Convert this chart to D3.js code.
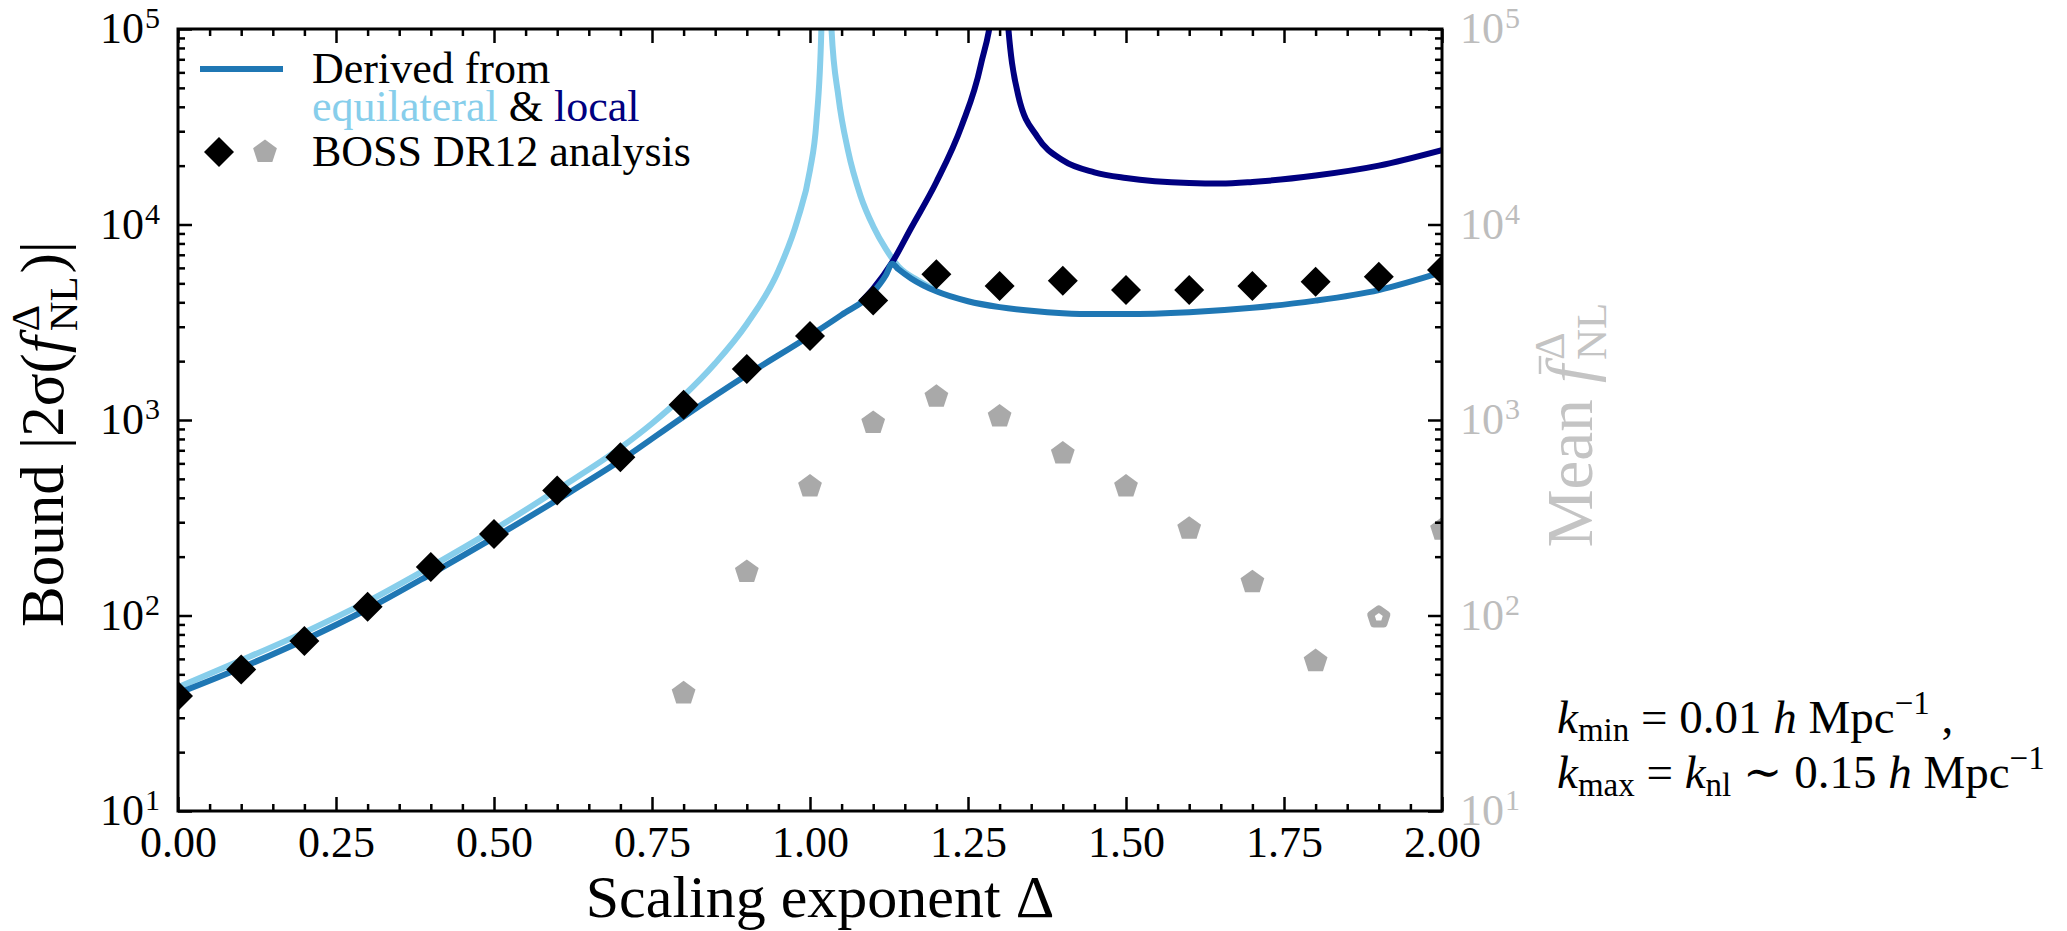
<!DOCTYPE html>
<html><head><meta charset="utf-8">
<script src="https://cdn.jsdelivr.net/npm/d3@7"></script>
<style>body{margin:0;background:#fff}svg text{white-space:pre}</style>
</head><body><svg id="c" width="2067" height="931"></svg>
<script>
// ---------------- data ----------------
const bossDelta = [0,0.1,0.2,0.3,0.4,0.5,0.6,0.7,0.8,0.9,1.0,1.1,1.2,1.3,1.4,1.5,1.6,1.7,1.8,1.9,2.0];
const bossBound = [38.7,52.9,74,111,177,261,436,644,1197,1822,2690,4085,5570,4842,5150,4620,4620,4840,5090,5400,5850];
const meanDelta = [0.8,0.9,1.0,1.1,1.2,1.3,1.4,1.5,1.6,1.7,1.8,1.9,2.0];
const meanValue = [40,167,457,966,1315,1042,674,457,278,148,58.5,98,275];
const meanOpen  = [false,false,false,false,false,false,false,false,false,false,false,true,false];

const combDelta = [0,0.1,0.2,0.3,0.4,0.5,0.6,0.7,0.8,0.9,1.0,1.05,1.1,1.12,1.13,1.14,1.16,1.2,1.25,1.3,1.35,1.4,1.45,1.5,1.6,1.7,1.8,1.9,2.0];
const combBound = [40,54,75,108,163,250,390,620,1040,1700,2700,3450,4500,5500,6300,5900,5300,4550,4050,3780,3620,3520,3480,3480,3560,3750,4080,4620,5700];

const eqDelta = [0,0.1,0.2,0.3,0.4,0.5,0.6,0.7,0.75,0.8,0.85,0.9,0.95,0.98,1.0,1.01,1.018,1.026,1.034,1.045,1.06,1.08,1.1,1.12,1.14,1.17,1.2];
const eqBound = [43,59,82,118,178,275,440,720,960,1330,1950,3100,5800,10500,19000,33000,100000,1e7,100000,45000,24000,14000,9800,7500,6100,5200,4600];

const locDelta = [1.08,1.1,1.13,1.16,1.2,1.24,1.27,1.29,1.3,1.31,1.33,1.36,1.4,1.45,1.5,1.6,1.65,1.7,1.8,1.9,2.0];
const locBound = [4000,4700,6400,9600,16500,32000,65000,150000,1e7,150000,45000,28000,21300,18500,17300,16300,16200,16500,17800,20000,24000];

const xMajor = [0,0.25,0.5,0.75,1.0,1.25,1.5,1.75,2.0];
const yExp = [1,2,3,4,5];

// ---------------- layout ----------------
const FONT = "'Liberation Serif','DejaVu Serif',serif";
const X0=178, X1=1442, Y0=29, Y1=811;
const C_COMB='#1f77b4', C_EQ='#87ceeb', C_LOC='#000080', C_GRAY='#a9a9a9', C_RT='#bdbdbd';
const LW = 6;

const svg = d3.select('#c');
const x = d3.scaleLinear().domain([0,2]).range([X0,X1]);
const y = d3.scaleLog().domain([10,1e5]).range([Y1,Y0]);

svg.append('defs').append('clipPath').attr('id','clip')
  .append('rect').attr('x',X0).attr('y',Y0).attr('width',X1-X0).attr('height',Y1-Y0);

// measuring helper
const meas = svg.append('text').attr('font-family',FONT).attr('x',10).attr('y',500).attr('fill','none');
function tw(t, fs, it){ meas.attr('font-size',fs).attr('font-style',it?'italic':'normal').text(t); return meas.node().getComputedTextLength(); }

// rich text: single <text> with positioned tspans
function rich(parent, px, py, parts, anchor, fill) {
  let cx = 0; const items = [];
  for (const p of parts) {
    if (p.sup !== undefined || p.sub !== undefined) {
      let w = 0;
      if (p.sup) { items.push({t:p.sup, fs:p.fs, it:p.supIt, x:cx, dy:p.supDy, fill:p.fill}); w = Math.max(w, tw(p.sup,p.fs,p.supIt)); }
      if (p.sub) { items.push({t:p.sub, fs:p.fs, it:p.subIt, x:cx, dy:p.subDy, fill:p.fill}); w = Math.max(w, tw(p.sub,p.fs,p.subIt)); }
      cx += w + (p.pad||0);
    } else {
      const w = tw(p.t, p.fs, p.it);
      items.push({t:p.t, fs:p.fs, it:p.it, x:cx, dy:p.dy, fill:p.fill, bar:p.bar, w});
      cx += w + (p.pad||0);
    }
  }
  const off = anchor==='end' ? -cx : anchor==='middle' ? -cx/2 : 0;
  const g = parent.append('g').attr('transform', `translate(${px+off},${py})`);
  const txt = g.append('text').attr('font-family', FONT).attr('fill', fill||'#000');
  items.forEach(it=>{
    txt.append('tspan').attr('x', it.x).attr('y', it.dy||0).attr('font-size', it.fs)
      .attr('font-style', it.it?'italic':'normal').attr('fill', it.fill||fill||'#000').text(it.t);
    if (it.bar) g.append('line').attr('x1', it.x + it.fs*0.14).attr('x2', it.x + it.w + it.fs*0.14)
      .attr('y1', -it.fs*0.8).attr('y2', -it.fs*0.8).attr('stroke', fill||'#000').attr('stroke-width', 2.5);
  });
  return g;
}

// ---------------- curves ----------------
const line = d3.line().x(d=>x(d[0])).y(d=>y(d[1])).curve(d3.curveMonotoneX);
const plot = svg.append('g').attr('clip-path','url(#clip)');
plot.append('path').datum(eqDelta.map((d,i)=>[d,eqBound[i]]))
  .attr('d', line).attr('fill','none').attr('stroke',C_EQ).attr('stroke-width',LW).attr('stroke-linejoin','round');
plot.append('path').datum(locDelta.map((d,i)=>[d,locBound[i]]))
  .attr('d', line).attr('fill','none').attr('stroke',C_LOC).attr('stroke-width',LW).attr('stroke-linejoin','round');
plot.append('path').datum(combDelta.map((d,i)=>[d,combBound[i]]))
  .attr('d', line).attr('fill','none').attr('stroke',C_COMB).attr('stroke-width',LW).attr('stroke-linejoin','round');

const diamond = r => `M0,${-r}L${r},0L0,${r}L${-r},0Z`;
const pentagon = r => d3.range(5).map(k=>{const a=-Math.PI/2+k*2*Math.PI/5;return [r*Math.cos(a), r*Math.sin(a)];})
  .map((p,i)=>(i?'L':'M')+p[0].toFixed(2)+','+p[1].toFixed(2)).join('')+'Z';

plot.selectAll('.dia').data(bossDelta.map((d,i)=>[d,bossBound[i]])).join('path')
  .attr('d', diamond(15)).attr('fill','#000')
  .attr('transform', d=>`translate(${x(d[0])},${y(d[1])})`);

plot.selectAll('.pent').data(meanDelta.map((d,i)=>[d,meanValue[i],meanOpen[i]])).join('path')
  .attr('d', d=> d[2] ? pentagon(8.5) : pentagon(12.5))
  .attr('fill', d=> d[2] ? '#fff' : C_GRAY)
  .attr('stroke', d=> d[2] ? C_GRAY : 'none').attr('stroke-width', 7).attr('stroke-linejoin','round')
  .attr('transform', d=>`translate(${x(d[0])},${y(d[1])})`);

// ---------------- axes ----------------
const xMinor = d3.range(0,2.0001,0.05).filter(v=>Math.abs(v/0.25-Math.round(v/0.25))>1e-6);
const yMinor = [];
for (let e=1;e<5;e++) for (let m=2;m<10;m++) yMinor.push(m*Math.pow(10,e));
const yMajor = yExp.map(e=>Math.pow(10,e));

function styleAxis(g){ g.select('.domain').remove(); g.selectAll('line').attr('stroke','#000').attr('stroke-width',2.5); }

svg.append('g').attr('transform',`translate(0,${Y1})`)
  .call(d3.axisBottom(x).tickValues(xMajor).tickSize(-14).tickPadding(15).tickFormat(d3.format('.2f')))
  .call(styleAxis)
  .attr('font-family',FONT).attr('font-size',44)
  .call(g=>g.selectAll('text').attr('fill','#000'));
svg.append('g').attr('transform',`translate(0,${Y1})`)
  .call(d3.axisBottom(x).tickValues(xMinor).tickSize(-7).tickFormat('')).call(styleAxis);
svg.append('g').attr('transform',`translate(0,${Y0})`)
  .call(d3.axisTop(x).tickValues(xMajor).tickSize(-14).tickFormat('')).call(styleAxis);
svg.append('g').attr('transform',`translate(0,${Y0})`)
  .call(d3.axisTop(x).tickValues(xMinor).tickSize(-7).tickFormat('')).call(styleAxis);

svg.append('g').attr('transform',`translate(${X0},0)`)
  .call(d3.axisLeft(y).tickValues(yMajor).tickSize(-14).tickFormat('')).call(styleAxis);
svg.append('g').attr('transform',`translate(${X0},0)`)
  .call(d3.axisLeft(y).tickValues(yMinor).tickSize(-7).tickFormat('')).call(styleAxis);
svg.append('g').attr('transform',`translate(${X1},0)`)
  .call(d3.axisRight(y).tickValues(yMajor).tickSize(-14).tickFormat('')).call(styleAxis);
svg.append('g').attr('transform',`translate(${X1},0)`)
  .call(d3.axisRight(y).tickValues(yMinor).tickSize(-7).tickFormat('')).call(styleAxis);

svg.append('rect').attr('x',X0).attr('y',Y0).attr('width',X1-X0).attr('height',Y1-Y0)
  .attr('fill','none').attr('stroke','#000').attr('stroke-width',3);

// y tick labels (left black, right gray)
yExp.forEach(e=>{
  const v = Math.pow(10,e);
  rich(svg, 160, y(v)+14, [{t:'10',fs:44,pad:1},{t:String(e),fs:30,dy:-15}], 'end');
  rich(svg, 1460, y(v)+14, [{t:'10',fs:44,pad:1},{t:String(e),fs:30,dy:-15}], 'start', C_RT);
});

// axis labels
svg.append('text').attr('x',(X0+X1)/2+10).attr('y',917).attr('text-anchor','middle')
  .attr('font-family',FONT).attr('font-size',60).text('Scaling exponent Δ');

const yl = svg.append('g').attr('transform','translate(63,434) rotate(-90)');
rich(yl, 0, 0, [
  {t:'Bound |2σ(',fs:61},
  {t:'f',fs:61,it:true,pad:5},
  {sup:'Δ',sub:'NL',fs:41,supDy:-24,subDy:14,pad:3},
  {t:')|',fs:61}
], 'middle');

const yr = svg.append('g').attr('transform','translate(1592,425) rotate(-90)');
rich(yr, 0, 0, [
  {t:'Mean ',fs:65},
  {t:'f',fs:65,it:true,pad:5,bar:true},
  {sup:'Δ',sub:'NL',fs:43,supDy:-28,subDy:14}
], 'middle', '#c4c4c4');

// legend
svg.append('line').attr('x1',200).attr('x2',283).attr('y1',69).attr('y2',69)
  .attr('stroke',C_COMB).attr('stroke-width',LW);
rich(svg, 312, 83, [{t:'Derived from',fs:44}], 'start');
rich(svg, 312, 121, [{t:'equilateral',fs:44,fill:C_EQ},{t:' & ',fs:44},{t:'local',fs:44,fill:C_LOC}], 'start');
svg.append('path').attr('d',diamond(15)).attr('fill','#000').attr('transform','translate(219,152)');
svg.append('path').attr('d',pentagon(12.5)).attr('fill',C_GRAY).attr('transform','translate(265,152)');
rich(svg, 312, 166, [{t:'BOSS DR12 analysis',fs:44}], 'start');

// annotation
rich(svg, 1557, 733, [
  {t:'k',fs:47,it:true},{t:'min',fs:33,dy:8},{t:' = 0.01 ',fs:47},{t:'h',fs:47,it:true},
  {t:' Mpc',fs:47},{t:'−1',fs:33,dy:-19},{t:' ,',fs:47}
], 'start');
rich(svg, 1557, 788, [
  {t:'k',fs:47,it:true},{t:'max',fs:33,dy:8},{t:' = ',fs:47},{t:'k',fs:47,it:true},{t:'nl',fs:33,dy:8},
  {t:' ∼ 0.15 ',fs:47},{t:'h',fs:47,it:true},{t:' Mpc',fs:47},{t:'−1',fs:33,dy:-19}
], 'start');

meas.remove();
</script></body></html>
